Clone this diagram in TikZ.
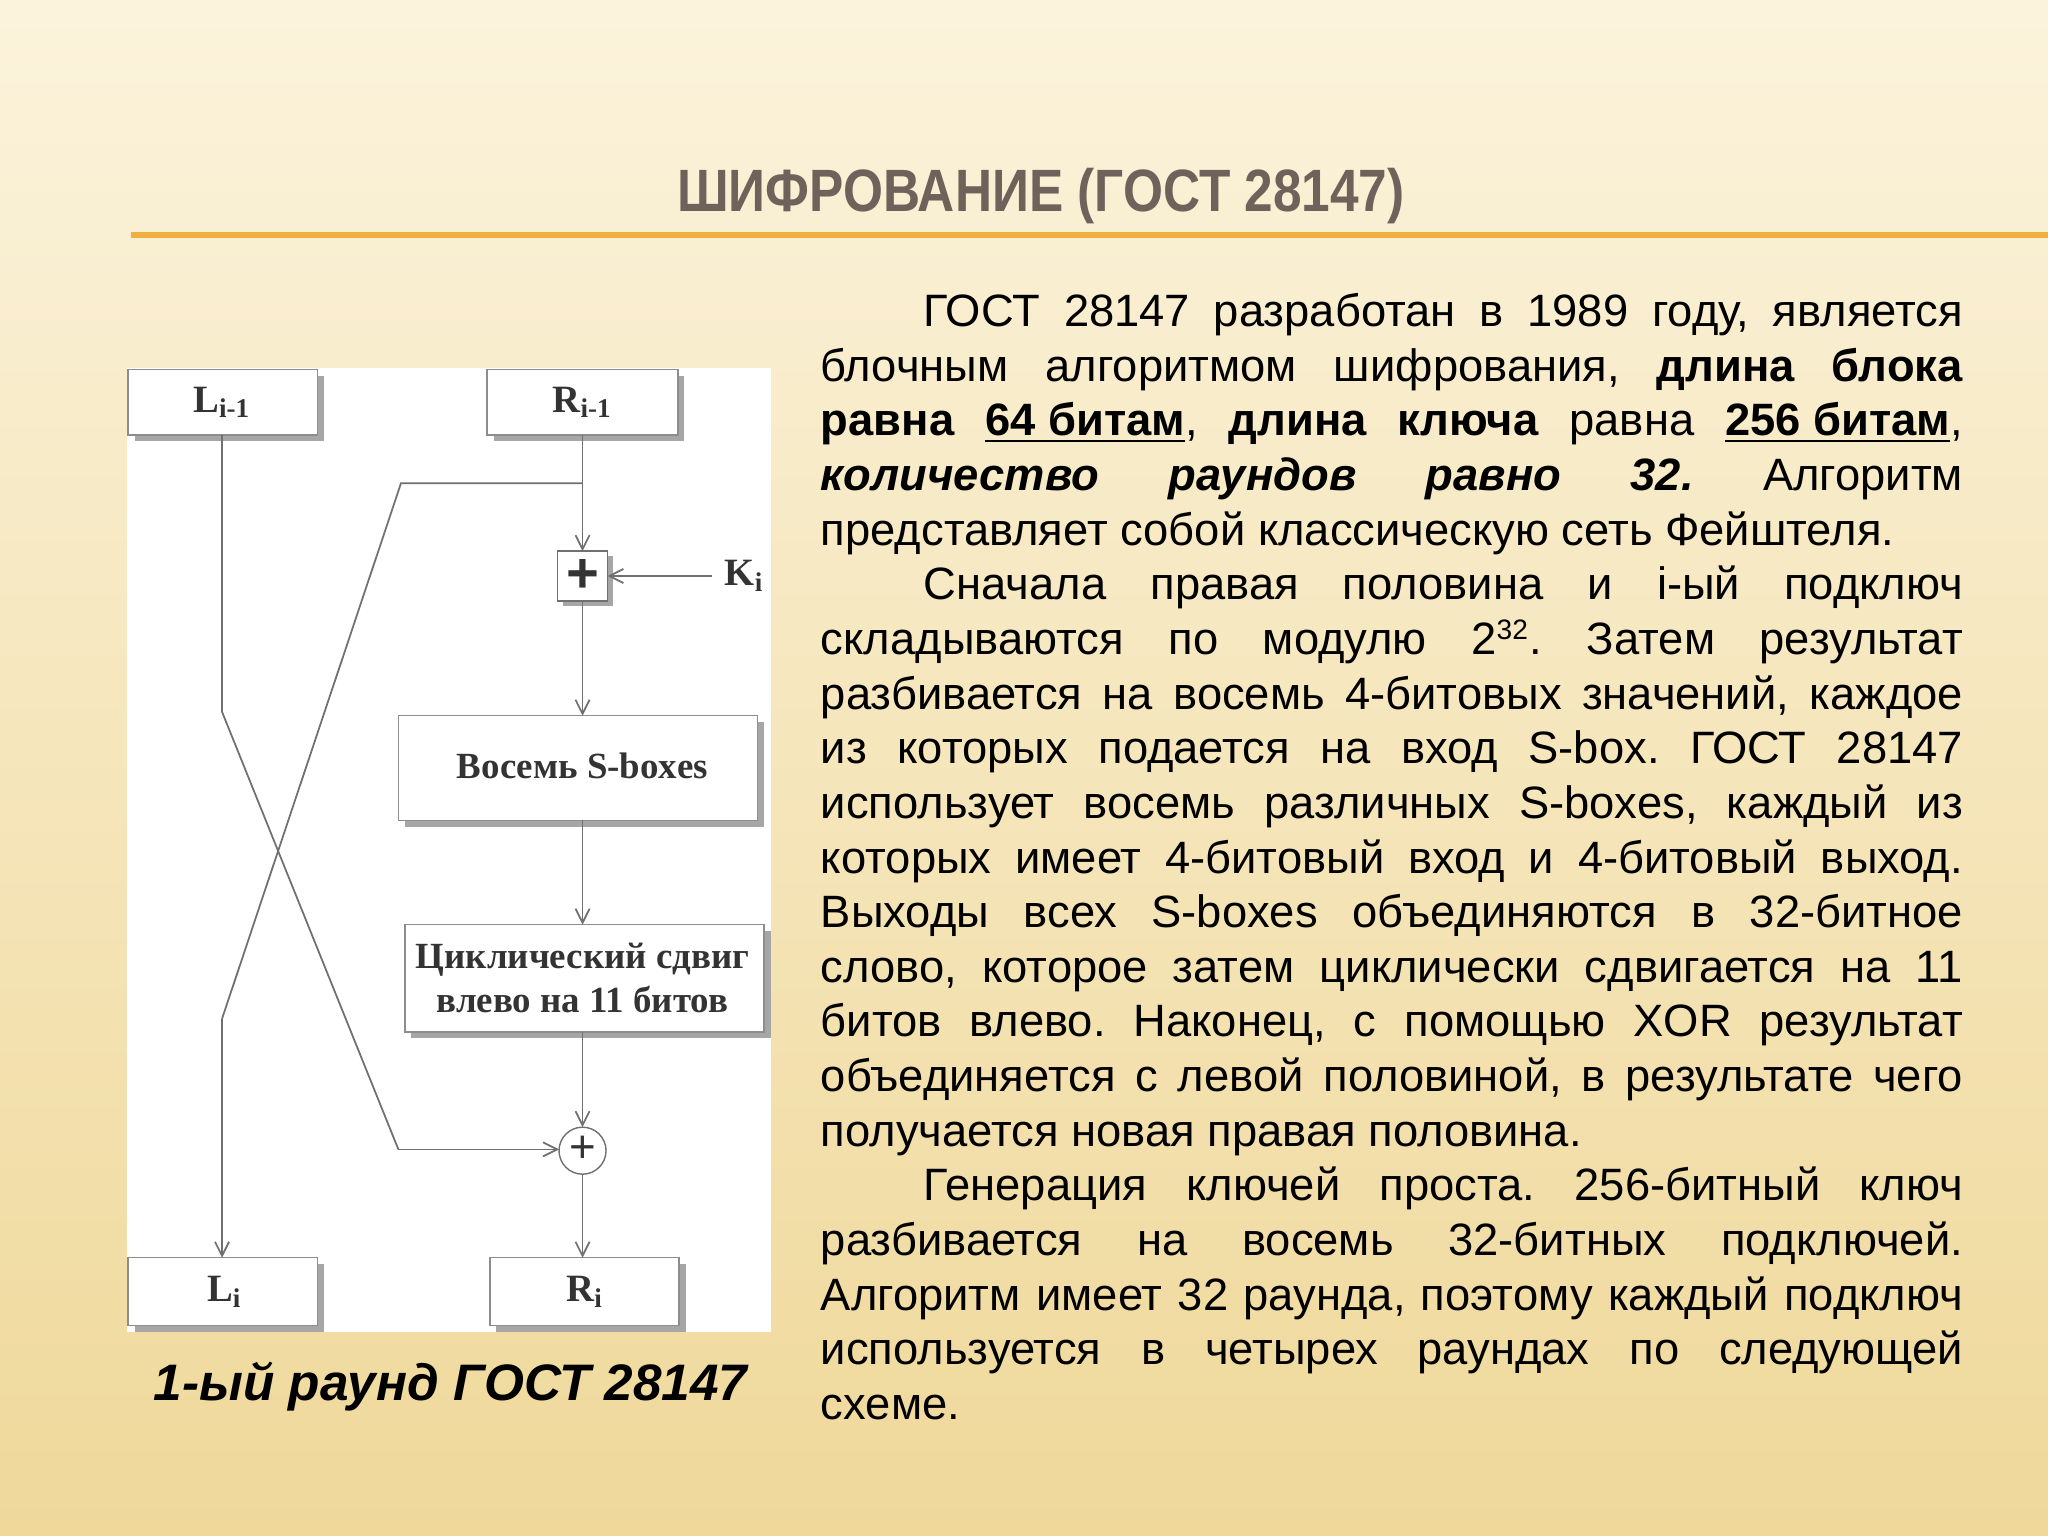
\documentclass[tikz,border=0pt]{standalone}
\usepackage{fontspec}
\setmainfont{Liberation Sans}
\newfontfamily\serifb{Liberation Serif}
\usetikzlibrary{arrows.meta}
\definecolor{bgtop}{HTML}{FBF3DC}
\definecolor{bgbot}{HTML}{EFD89A}
\definecolor{ttl}{HTML}{6E625A}
\definecolor{orln}{HTML}{F0B040}
\definecolor{ln}{HTML}{707070}
\tikzset{
 shd/.style={fill=black!35,draw=none},
 lbl/.style={font=\serifb\bfseries\fontsize{11}{12}\selectfont,text=black!80},
 wire/.style={draw=ln,line width=0.5pt},
 arr/.style={wire,-{Straight Barb[length=4pt,width=4pt]}}
}
\begin{document}
\frenchspacing
\begin{tikzpicture}[x=0.013061cm,y=-0.013061cm]
\useasboundingbox (0,0) rectangle (1568,1176);
\shade[top color=bgtop,bottom color=bgbot] (0,0) rectangle (1568,1176);
\node[font=\bfseries\fontsize{17}{20}\selectfont,text=ttl,xscale=0.86] (title) at (797,150) {ШИФРОВАНИЕ (ГОСТ 28147)};
\draw[orln,line width=1.5pt] (100,180) -- (1568,180);
\fill[white] (97,282) rectangle (590,1020);
\foreach \a/\b/\c/\d in {98/283/243/333, 373/283/519/333, 305/548/580/628, 310/708/585/790, 98/963/243/1015, 375/963/520/1015}
  \fill[shd] (\a+5,\b+5) rectangle (\c+5,\d+5);
\draw[draw=ln!80,fill=white] (98,283) rectangle (243,333);
\node[lbl] (Lp) at (170,308) {L\textsubscript{i-1}};
\draw[draw=ln!80,fill=white] (373,283) rectangle (519,333);
\node[lbl] (Rp) at (446,308) {R\textsubscript{i-1}};
\draw[draw=ln!80,fill=white] (305,548) rectangle (580,628);
\node[font=\serifb\bfseries\fontsize{10.5}{12}\selectfont,text=black!80] (S) at (446,586) {Восемь S-boxes};
\draw[draw=ln!80,fill=white] (310,708) rectangle (585,790);
\node[font=\serifb\bfseries\fontsize{10.5}{12.5}\selectfont,text=black!80,align=center] (C) at (446,749) {Циклический сдвиг\\влево на 11 битов};
\draw[draw=ln!80,fill=white] (98,963) rectangle (243,1015);
\node[lbl] (L) at (172,989) {L\textsubscript{i}};
\draw[draw=ln!80,fill=white] (375,963) rectangle (520,1015);
\node[lbl] (R) at (448,989) {R\textsubscript{i}};
\fill[shd] (431,426) rectangle (469,464);
\draw[draw=ln,fill=white] (427,422) rectangle (465,460);
\node[font=\bfseries\fontsize{16}{16}\selectfont,text=black!80] (P) at (446,441) {+};
\node[lbl] (K) at (570,441) {K\textsubscript{i}};
\draw[draw=ln,fill=white] (446,881) circle (18);
\node[font=\fontsize{13}{13}\selectfont,text=black!80] (X) at (446,880) {+};
\coordinate (br) at (446,370);
\coordinate (bl) at (307,370);
\draw[arr] (446,333) -- (446,422);
\draw[arr] (K.west) -- (465,441);
\draw[arr] (446,460) -- (446,548);
\draw[arr] (446,628) -- (446,708);
\draw[arr] (446,790) -- (446,863);
\draw[arr] (446,899) -- (446,963);
\draw[wire] (br) -- (bl) -- (170,780);
\draw[arr] (170,780) -- (170,963);
\draw[wire] (170,333) -- (170,545) -- (305,880);
\draw[arr] (305,880) -- (428,880);
\node[font=\bfseries\itshape\fontsize{14.6}{18}\selectfont] (cap) at (345,1062) {1-ый раунд ГОСТ 28147};
\node[anchor=north west,inner sep=0pt,text width=11.42cm,align=justify,font=\fontsize{12.9}{15.55}\selectfont] (txt) at (628,224) {%
\setlength{\parindent}{1.03cm}\setlength{\parskip}{0pt}%
\indent ГОСТ 28147 разработан в 1989 году, является\linebreak
блочным алгоритмом шифрования, \textbf{длина блока}\linebreak
\textbf{равна \underline{64 битам}}, \textbf{длина ключа} равна \textbf{\underline{256 битам}},\linebreak
\textbf{\textit{количество раундов равно 32.}} Алгоритм\linebreak
представляет собой классическую сеть Фейштеля.\par
\indent Сначала правая половина и i-ый подключ\linebreak
складываются по модулю 2\textsuperscript{\fontsize{8}{8}\selectfont 32}. Затем результат\linebreak
разбивается на восемь 4-битовых значений, каждое\linebreak
из которых подается на вход S-box. ГОСТ 28147\linebreak
использует восемь различных S-boxes, каждый из\linebreak
которых имеет 4-битовый вход и 4-битовый выход.\linebreak
Выходы всех S-boxes объединяются в 32-битное\linebreak
слово, которое затем циклически сдвигается на 11\linebreak
битов влево. Наконец, с помощью XOR результат\linebreak
объединяется с левой половиной, в результате чего\linebreak
получается новая правая половина.\par
\indent Генерация ключей проста. 256-битный ключ\linebreak
разбивается на восемь 32-битных подключей.\linebreak
Алгоритм имеет 32 раунда, поэтому каждый подключ\linebreak
используется в четырех раундах по следующей\linebreak
схеме.\par};
\end{tikzpicture}
\end{document}
